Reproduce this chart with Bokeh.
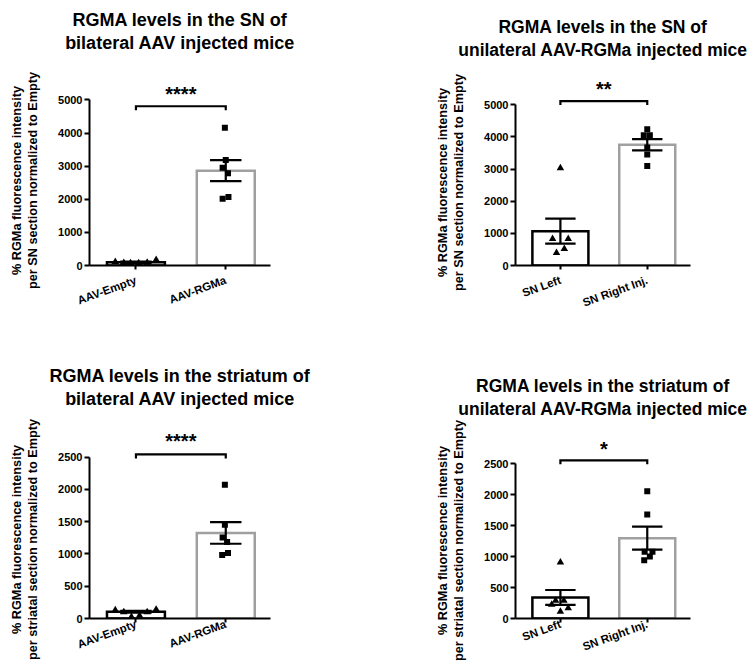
import numpy as np
from bokeh.plotting import figure
from bokeh.models import Range1d, FixedTicker, Title
from bokeh.layouts import column, row
from bokeh.embed import file_html
from bokeh.resources import INLINE
from bokeh.core.properties import value

# ---------------- data ----------------
# Panel A: SN, bilateral
a_title = ["RGMA levels in the SN of", "bilateral AAV injected mice"]
a_ylabel = ["% RGMa fluorescence intensity", "per SN section normalized to Empty"]
a_groups = ["AAV-Empty", "AAV-RGMa"]
a_pts1 = [110, 80, 75, 70, 85, 170]
a_pts2 = [4160, 3190, 2950, 2790, 2020, 2070]
a_mean = [100, 2866]
a_sem = [20, 320]
a_yticks = [0, 1000, 2000, 3000, 4000, 5000]
a_sig = "****"
a_bracket_y = 4810
a_star_y = 5170

# Panel B: SN, unilateral
b_title = ["RGMA levels in the SN of", "unilateral AAV-RGMa injected mice"]
b_ylabel = ["% RGMa fluorescence intensity", "per SN section normalized to Empty"]
b_groups = ["SN Left", "SN Right Inj."]
b_pts1 = [3030, 830, 830, 520, 395]
b_pts2 = [4240, 4050, 4050, 3670, 3450, 3090]
b_mean = [1068, 3755]
b_sem = [390, 177]
b_yticks = [0, 1000, 2000, 3000, 4000, 5000]
b_sig = "**"
b_bracket_y = 5114
b_star_y = 5500

# Panel C: striatum, bilateral
c_title = ["RGMA levels in the striatum of", "bilateral AAV injected mice"]
c_ylabel = ["% RGMa fluorescence intensity", "per striatal section normalized to Empty"]
c_groups = ["AAV-Empty", "AAV-RGMa"]
c_pts1 = [130, 100, 25, 45, 100, 140]
c_pts2 = [2070, 1450, 1255, 1185, 985, 1015]
c_mean = [105, 1325]
c_sem = [15, 168]
c_yticks = [0, 500, 1000, 1500, 2000, 2500]
c_sig = "****"
c_bracket_y = 2540
c_star_y = 2750

# Panel D: striatum, unilateral
d_title = ["RGMA levels in the striatum of", "unilateral AAV-RGMa injected mice"]
d_ylabel = ["% RGMa fluorescence intensity", "per striatal section normalized to Empty"]
d_groups = ["SN Left", "SN Right Inj."]
d_pts1 = [905, 288, 288, 225, 167, 110]
d_pts2 = [2055, 1680, 1077, 1077, 1000, 940]
d_mean = [340, 1297]
d_sem = [120, 186]
d_yticks = [0, 500, 1000, 1500, 2000, 2500]
d_sig = "*"
d_bracket_y = 2552
d_star_y = 2740

# horizontal scatter (jitter) of the dots, in category units
a_jit1 = [-0.23, -0.135, -0.06, 0.03, 0.125, 0.225]
a_jit2 = [-0.01, 0.0, -0.035, 0.025, -0.035, 0.03]
b_jit1 = [0.0, -0.09, 0.09, 0.045, -0.045]
b_jit2 = [0.0, -0.04, 0.03, 0.0, 0.0, 0.0]
c_jit1 = [-0.23, -0.135, -0.05, 0.04, 0.125, 0.225]
c_jit2 = [-0.01, -0.01, -0.035, 0.015, -0.04, 0.025]
d_jit1 = [0.0, -0.055, 0.04, -0.1, 0.09, 0.0]
d_jit2 = [0.0, 0.0, -0.03, 0.06, 0.03, -0.035]

FONT = "Liberation Sans"
GRAY = "#a0a0a0"


def spacer(standoff):
    return Title(text=" ", standoff=standoff, text_font_size="2px",
                 text_color="white")


def panel(h, borders, yend, title, title_size, title_gap, ylabel,
          ylabel_gap, ylabel_offsets, label_standoff,
          groups, pts1, jit1, pts2, jit2, mean, sem, yticks, sig, bracket_y, star_y):
    L, R, T, B = borders
    p = figure(width=375, height=h, x_range=Range1d(0.483, 2.498),
               y_range=Range1d(0, yend), output_backend="svg",
               toolbar_location=None, min_border_left=L, min_border_right=R,
               min_border_top=T, min_border_bottom=B, title=None)
    p.outline_line_color = None
    p.background_fill_color = "white"
    p.border_fill_color = "white"
    p.xgrid.visible = False
    p.ygrid.visible = False

    ppu = (h - T - B) / yend  # pixels per data unit

    xs = [1, 2]
    # bars
    p.vbar(x=xs, top=mean, width=0.645, bottom=0, fill_color="white",
           line_color=["black", GRAY], line_width=2.5, line_join="miter")
    # dots
    p.scatter(x=[1 + j for j in jit1], y=pts1, marker="triangle", size=7.5,
              fill_color="black", line_color="black", line_width=0)
    p.scatter(x=[2 + j for j in jit2], y=pts2, marker="square", size=6,
              fill_color="black", line_color="black", line_width=0)
    # error bars (mean +/- SEM)
    lo = [m - s for m, s in zip(mean, sem)]
    hi = [m + s for m, s in zip(mean, sem)]
    cw = 0.175
    p.segment(x0=xs, y0=lo, x1=xs, y1=hi, line_color="black", line_width=2.2)
    p.segment(x0=[x - cw for x in xs], y0=hi, x1=[x + cw for x in xs], y1=hi,
              line_color="black", line_width=2.2)
    p.segment(x0=[x - cw for x in xs], y0=lo, x1=[x + cw for x in xs], y1=lo,
              line_color="black", line_width=2.2)
    # significance bracket
    drop = 4.0 / ppu
    p.line(x=[1, 1, 2, 2], y=[bracket_y - drop, bracket_y, bracket_y, bracket_y - drop],
           line_color="black", line_width=2.2, line_join="miter")
    p.text(x=[1.5], y=[star_y], text=[sig], text_align="center",
           text_baseline="middle", text_font=value(FONT), text_font_style="bold",
           text_font_size="20px", text_color="black")

    # axes
    yax = p.yaxis[0]
    yax.ticker = FixedTicker(ticks=yticks)
    yax.bounds = (0, yticks[-1])
    yax.minor_tick_line_color = None
    yax.major_tick_out = 5
    yax.major_tick_in = 0
    yax.major_tick_line_width = 2
    yax.axis_line_width = 2
    yax.major_label_standoff = 2
    yax.major_label_text_font = FONT
    yax.major_label_text_font_style = "bold"
    yax.major_label_text_font_size = "11px"
    yax.major_label_text_color = "black"

    xax = p.xaxis[0]
    xax.ticker = FixedTicker(ticks=xs)
    xax.major_label_overrides = {1: groups[0], 2: groups[1]}
    xax.minor_tick_line_color = None
    xax.major_tick_out = 4
    xax.major_tick_in = 0
    xax.major_tick_line_width = 2
    xax.axis_line_width = 2
    xax.major_label_standoff = label_standoff
    xax.major_label_orientation = 0.35
    xax.major_label_text_font = FONT
    xax.major_label_text_font_style = "bold"
    xax.major_label_text_font_size = "11.5px"
    xax.major_label_text_color = "black"

    # titles: spacer next to frame, then inner line, then outer line
    p.add_layout(spacer(title_gap), "above")
    for txt, so in zip(reversed(title), [0, 1.4]):
        p.add_layout(Title(text=txt, align="center", standoff=so,
                           text_font=FONT, text_font_style="bold",
                           text_font_size=title_size, text_color="black"), "above")
    # y-axis label (two lines, inner line first, after a spacer)
    p.add_layout(spacer(ylabel_gap), "left")
    for txt, off in zip(reversed(ylabel), reversed(ylabel_offsets)):
        p.add_layout(Title(text=txt, align="left", standoff=0, offset=off,
                           text_font=FONT, text_font_style="bold",
                           text_font_size="12.7px", text_color="black"), "left")
    return p


pA = panel(330, (89, 105, 73, 64), 5800, a_title, "18px", 16.5,
           a_ylabel, 12.2, (-9.5, -23.5), 10, a_groups, a_pts1, a_jit1, a_pts2, a_jit2,
           a_mean, a_sem, a_yticks, a_sig, a_bracket_y, a_star_y)
pB = panel(330, (140, 60, 73, 65), 5970, b_title, "17.5px", 10.2,
           b_ylabel, 12.2, (-11.5, -25.5), 10, b_groups, b_pts1, b_jit1, b_pts2, b_jit2,
           b_mean, b_sem, b_yticks, b_sig, b_bracket_y, b_star_y)
pC = panel(331, (89, 105, 93, 42), 3019, c_title, "18px", 10.5,
           c_ylabel, 12.2, (-15.5, -41.5), 1, c_groups, c_pts1, c_jit1, c_pts2, c_jit2,
           c_mean, c_sem, c_yticks, c_sig, c_bracket_y, c_star_y)
pD = panel(331, (140, 60, 93, 42), 3147, d_title, "17.5px", 0.5,
           d_ylabel, 12.2, (-16.5, -42.5), 1, d_groups, d_pts1, d_jit1, d_pts2, d_jit2,
           d_mean, d_sem, d_yticks, d_sig, d_bracket_y, d_star_y)

layout = column(row(pA, pB), row(pC, pD))
open("out.html", "w").write(file_html(layout, INLINE))
